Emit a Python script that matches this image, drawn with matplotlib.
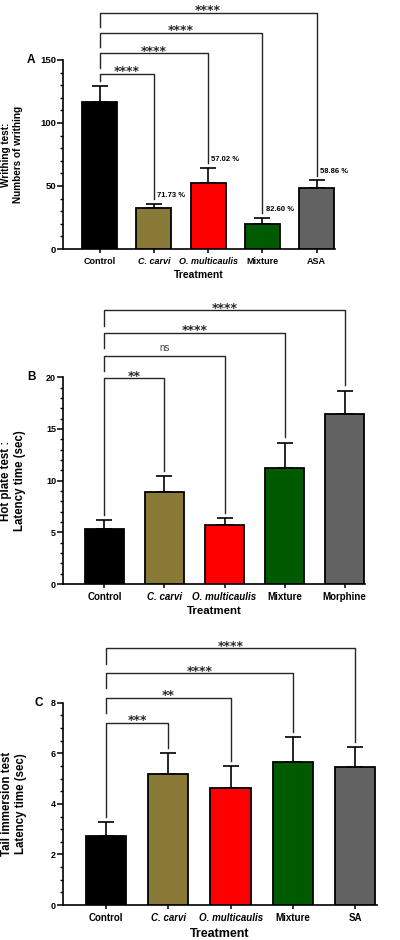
import numpy as np
import matplotlib.pyplot as plt
from matplotlib.ticker import MultipleLocator

plt.rcParams['font.family'] = ['Liberation Sans', 'DejaVu Sans']
plt.rcParams['font.weight'] = 'bold'

# Datos de cada prueba
groups_a = ['Control', 'C. carvi', 'O. multicaulis', 'Mixture', 'ASA']
writhing_mean = [116.5, 32.9, 52.1, 19.8, 48.2]
writhing_sd = [13.2, 2.9, 12.1, 4.7, 6.3]
writhing_pct = ['', '71.73 %', '57.02 %', '82.60 %', '58.86 %']
writhing_sig = ['****', '****', '****', '****']

groups_b = ['Control', 'C. carvi', 'O. multicaulis', 'Mixture', 'Morphine']
hot_mean = [5.29, 8.87, 5.71, 11.26, 16.48]
hot_sd = [0.90, 1.61, 0.71, 2.42, 2.23]
hot_sig = ['**', 'ns', '****', '****']

groups_c = ['Control', 'C. carvi', 'O. multicaulis', 'Mixture', 'SA']
tail_mean = [2.74, 5.18, 4.63, 5.67, 5.47]
tail_sd = [0.53, 0.85, 0.87, 0.97, 0.78]
tail_sig = ['***', '**', '****', '****']

colors = ['#000000', '#8a7a38', '#ff0000', '#005a00', '#626262']
italic = [False, True, True, False, False]


def panel(ax, groups, means, sds, sigs, letter, ylabel, ymax, major, minor,
          xlim, start, step, tick_fs, lab_fs, xlab_fs, ylab_fs, ylab_x, letter_x,
          xlab_y, pct=None):
    x = np.arange(len(groups))
    means = np.array(means)
    sds = np.array(sds)
    ax.bar(x, means, width=0.645, color=colors, edgecolor='black', linewidth=1.3, zorder=3)
    ax.errorbar(x, means, yerr=[np.zeros_like(sds), sds], fmt='none', ecolor='black',
                elinewidth=1.2, capsize=6, capthick=1.2, zorder=2)
    ax.set_ylim(0, ymax)
    ax.set_xlim(*xlim)
    ax.yaxis.set_major_locator(MultipleLocator(major))
    ax.yaxis.set_minor_locator(MultipleLocator(minor))
    ax.spines['top'].set_visible(False)
    ax.spines['right'].set_visible(False)
    ax.spines['left'].set_linewidth(1.2)
    ax.spines['bottom'].set_linewidth(1.2)
    ax.tick_params(axis='y', which='major', length=4, width=1.1, labelsize=tick_fs, pad=1)
    ax.tick_params(axis='y', which='minor', length=2.5, width=1.0)
    ax.tick_params(axis='x', length=3, width=1.1, pad=2.5)
    ax.set_xticks(x)
    ax.set_xticklabels(groups, fontsize=lab_fs, fontweight='bold')
    for t, it in zip(ax.get_xticklabels(), italic):
        if it:
            t.set_fontstyle('italic')
    ax.set_xlabel('Treatment', fontsize=xlab_fs, fontweight='bold', va='center')
    ax.xaxis.set_label_coords(0.5, xlab_y)
    ax.set_ylabel(ylabel, fontsize=ylab_fs, fontweight='bold', linespacing=1.15,
                  va='center', ha='center')
    ax.yaxis.set_label_coords(ylab_x, 0.5)
    ax.text(letter_x, 1.0, letter, transform=ax.transAxes, fontsize=8.5,
            fontweight='bold', ha='right', va='center')

    # corchetes de significancia
    leg = 0.075 * ymax
    gap = 0.025 * ymax
    top = means + sds
    for i, s in enumerate(sigs):
        j = i + 1
        h = ymax * (start + step * i)
        left_end = top[0] + gap if i == 0 else h - leg
        ax.plot([0, 0, j, j], [left_end, h, h, top[j] + gap], color='0.15',
                linewidth=1.0, clip_on=False, zorder=4)
        if s == 'ns':
            ax.annotate(s, (j / 2, h), xytext=(0, 3), textcoords='offset points',
                        ha='center', va='baseline', fontsize=7, fontweight='normal',
                        color='0.25', annotation_clip=False)
        else:
            ax.annotate(s, (j / 2, h), xytext=(0, -1), textcoords='offset points',
                        ha='center', va='baseline', fontsize=9, fontweight='bold',
                        family='DejaVu Sans', color='0.15', annotation_clip=False)
    if pct is not None:
        for j, p in enumerate(pct):
            if p:
                ax.text(x[j] + 0.06, top[j] + 0.045 * ymax, p, fontsize=5.5,
                        fontweight='bold', ha='left', va='center')


fig = plt.figure(figsize=(4, 9.4), dpi=100)
ax_a = fig.add_axes([0.1575, 0.7351, 0.68, 0.2011])
ax_b = fig.add_axes([0.1575, 0.3787, 0.755, 0.2199])
ax_c = fig.add_axes([0.1575, 0.0372, 0.785, 0.2152])

panel(ax_a, groups_a, writhing_mean, writhing_sd, writhing_sig, 'A',
      'Writhing test:\nNumbers of writhing', 150, 50, 10, (-0.673, 4.34),
      0.927, 0.108, 6.8, 6.5, 7.5, 7.2, -0.1875, -0.103, -0.14, pct=writhing_pct)
panel(ax_b, groups_b, hot_mean, hot_sd, hot_sig, 'B',
      'Hot plate test :\nLatency time (sec)', 20, 5, 1, (-0.69, 4.34),
      0.995, 0.11, 6.5, 7, 8.2, 8.3, -0.166, -0.089, -0.13)
panel(ax_c, groups_c, tail_mean, tail_sd, tail_sig, 'C',
      'Tail immersion test\nLatency time (sec)', 8, 2, 0.5, (-0.69, 4.35),
      0.9, 0.123, 6.5, 7, 9, 8.3, -0.156, -0.064, -0.145)

fig.savefig('out.png', dpi=100)
